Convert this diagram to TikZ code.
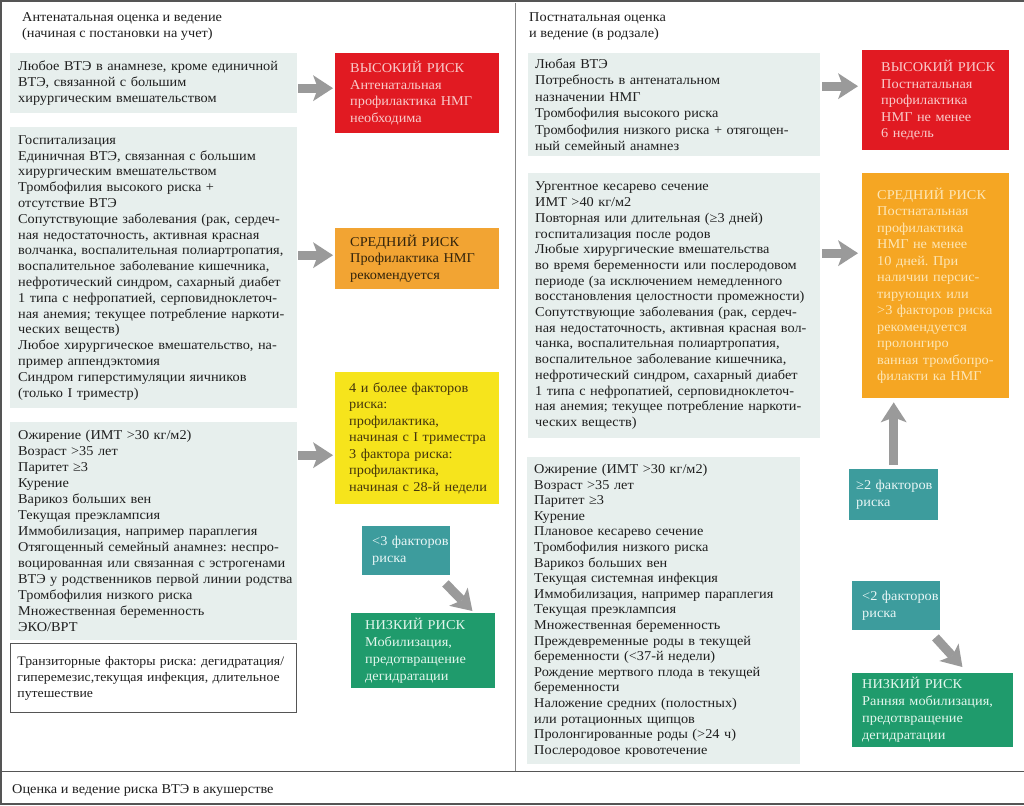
\documentclass[tikz,border=0pt]{standalone}
\usepackage{fontspec}
\setmainfont{Liberation Serif}[FakeStretch=1.06]
\frenchspacing
\usetikzlibrary{arrows.meta,calc}
\definecolor{infofill}{HTML}{E7EFED}
\definecolor{txt}{HTML}{1F1F1F}
\definecolor{redbox}{HTML}{E11A22}
\definecolor{redtxt}{HTML}{F9CACA}
\definecolor{orangeL}{HTML}{F2A433}
\definecolor{orangeLtxt}{HTML}{33240C}
\definecolor{orangeR}{HTML}{F5A623}
\definecolor{orangeRtxt}{HTML}{FDE6B5}
\definecolor{yellowbox}{HTML}{F6E41C}
\definecolor{yellowtxt}{HTML}{45360C}
\definecolor{tealbox}{HTML}{3D9C9D}
\definecolor{tealtxt}{HTML}{E8F6F6}
\definecolor{greenbox}{HTML}{1F9B6C}
\definecolor{greentxt}{HTML}{E2F6EC}
\definecolor{arrowgray}{HTML}{9A9A9A}
\definecolor{framegray}{HTML}{555555}
\begin{document}
\begin{tikzpicture}[x=1pt,y=-1pt,
  every node/.style={font=\fontsize{13.5}{16}\selectfont, text=txt},
  bx/.style n args={3}{anchor=north west, rectangle, minimum width=#1, minimum height=#2,
    text width=#1, inner xsep=0pt, inner ysep=0pt, align=left,
    execute at begin node={\leftskip=#3\relax\rightskip=-40pt plus 1fil\relax}},
  info/.style={fill=infofill},
  transit/.style={fill=white, draw=framegray, line width=0.8pt},
  redrisk/.style={fill=redbox, text=redtxt, font=\fontsize{13.5}{16.5}\selectfont},
  orangeleft/.style={fill=orangeL, text=orangeLtxt, font=\fontsize{13.5}{16.5}\selectfont},
  orangeright/.style={fill=orangeR, text=orangeRtxt, font=\fontsize{13.5}{16.5}\selectfont},
  yellowrisk/.style={fill=yellowbox, text=yellowtxt, font=\fontsize{13.5}{16.5}\selectfont},
  tealrisk/.style={fill=tealbox, text=tealtxt, font=\fontsize{13.5}{17}\selectfont},
  greenrisk/.style={fill=greenbox, text=greentxt, font=\fontsize{13.5}{17}\selectfont},
  heading/.style={anchor=north west, align=left, inner sep=0pt, font=\fontsize{13.5}{16}\selectfont},
  garrow/.style={draw=arrowgray, line width=9pt,
    -{Stealth[length=20pt,width=26pt,inset=5pt,line width=0pt]}},
  frameline/.style={draw=framegray, line width=1.5pt}
]
\useasboundingbox (0,0) rectangle (1024,805);
\fill[white] (0,0) rectangle (1024,805);

% frame
\draw[frameline] (1024,1) -- (1,1) -- (1,804) -- (1024,804);
\draw[draw=framegray, line width=1pt] (0,771) -- (1024,771);
\draw[draw=framegray!70, line width=1pt] (515,3) -- (515,771);

% headings
\node[heading] (hl) at (22,12) {Антенатальная оценка и ведение\\(начиная с постановки на учет)};
\node[heading] (hr) at (529,12) {Постнатальная оценка\\и ведение (в родзале)};
\node[heading] (cap) at (12,784) {Оценка и ведение риска ВТЭ в акушерстве};

% ---------- left column ----------
\node[bx={287pt}{60pt}{8pt}, info] (b1) at (10,53)
  {Любое ВТЭ в анамнезе, кроме единичной\\ВТЭ, связанной с большим\\хирургическим вмешательством};
\node[bx={164pt}{80pt}{15pt}, redrisk] (r1) at (335,53)
  {ВЫСОКИЙ РИСК\\Антенатальная\\профилактика НМГ\\необходима};

\node[bx={287pt}{281pt}{8pt}, info, font=\fontsize{13.5}{15.8}\selectfont] (b2) at (10,127)
  {Госпитализация\\Единичная ВТЭ, связанная с большим\\хирургическим вмешательством\\Тромбофилия высокого риска +\\отсутствие ВТЭ\\Сопутствующие заболевания (рак, сердеч-\\ная недостаточность, активная красная\\волчанка, воспалительная полиартропатия,\\воспалительное заболевание кишечника,\\нефротический синдром, сахарный диабет\\1 типа с нефропатией, серповидноклеточ-\\ная анемия; текущее потребление наркоти-\\ческих веществ)\\Любое хирургическое вмешательство, на-\\пример аппендэктомия\\Синдром гиперстимуляции яичников\\(только I триместр)};
\node[bx={164pt}{61pt}{15pt}, orangeleft] (o1) at (335,228)
  {СРЕДНИЙ РИСК\\Профилактика НМГ\\рекомендуется};

\node[bx={287pt}{218pt}{8pt}, info] (b3) at (10,422)
  {Ожирение (ИМТ >30 кг/м2)\\Возраст >35 лет\\Паритет ≥3\\Курение\\Варикоз больших вен\\Текущая преэклампсия\\Иммобилизация, например параплегия\\Отягощенный семейный анамнез: неспро-\\воцированная или связанная с эстрогенами\\ВТЭ у родственников первой линии родства\\Тромбофилия низкого риска\\Множественная беременность\\ЭКО/ВРТ};
\node[bx={164pt}{132pt}{14pt}, yellowrisk] (y1) at (335,372)
  {4 и более факторов\\риска:\\профилактика,\\начиная с I триместра\\3 фактора риска:\\профилактика,\\начиная с 28-й недели};

\node[bx={286pt}{69pt}{7pt}, transit, font=\fontsize{13}{16}\selectfont] (tr) at (10,643)
  {Транзиторные факторы риска: дегидратация/\\гиперемезис,текущая инфекция, длительное\\путешествие};

\node[bx={88pt}{49pt}{10pt}, tealrisk] (tl) at (362,526)
  {<3 факторов\\риска};
\node[bx={144pt}{75pt}{14pt}, greenrisk] (gl) at (351,613)
  {НИЗКИЙ РИСК\\Мобилизация,\\предотвращение\\дегидратации};

% ---------- right column ----------
\node[bx={292pt}{103pt}{7pt}, info, font=\fontsize{13.5}{16.5}\selectfont] (c1) at (528,53)
  {Любая ВТЭ\\Потребность в антенатальном\\назначении НМГ\\Тромбофилия высокого риска\\Тромбофилия низкого риска + отягощен-\\ный семейный анамнез};
\node[bx={147pt}{100pt}{19pt}, redrisk] (r2) at (862,50)
  {ВЫСОКИЙ РИСК\\Постнатальная\\профилактика\\НМГ не менее\\6 недель};

\node[bx={292pt}{265pt}{7pt}, info, font=\fontsize{13.5}{15.7}\selectfont] (c2) at (528,173)
  {Ургентное кесарево сечение\\ИМТ >40 кг/м2\\Повторная или длительная (≥3 дней)\\госпитализация после родов\\Любые хирургические вмешательства\\во время беременности или послеродовом\\периоде (за исключением немедленного\\восстановления целостности промежности)\\Сопутствующие заболевания (рак, сердеч-\\ная недостаточность, активная красная вол-\\чанка, воспалительная полиартропатия,\\воспалительное заболевание кишечника,\\нефротический синдром, сахарный диабет\\1 типа с нефропатией, серповидноклеточ-\\ная анемия; текущее потребление наркоти-\\ческих веществ)};
\node[bx={147pt}{225pt}{15pt}, orangeright] (o2) at (862,173)
  {СРЕДНИЙ РИСК\\Постнатальная\\профилактика\\НМГ не менее\\10 дней. При\\наличии персис-\\тирующих или\\>3 факторов риска\\рекомендуется\\пролонгиро\\ванная тромбопро-\\филакти ка НМГ};

\node[bx={89pt}{51pt}{7pt}, tealrisk] (t2) at (849,469)
  {≥2 факторов\\риска};

\node[bx={273pt}{307pt}{7pt}, info, font=\fontsize{13.5}{15.6}\selectfont] (c3) at (527,457)
  {Ожирение (ИМТ >30 кг/м2)\\Возраст >35 лет\\Паритет ≥3\\Курение\\Плановое кесарево сечение\\Тромбофилия низкого риска\\Варикоз больших вен\\Текущая системная инфекция\\Иммобилизация, например параплегия\\Текущая преэклампсия\\Множественная беременность\\Преждевременные роды в текущей\\беременности (<37-й недели)\\Рождение мертвого плода в текущей\\беременности\\Наложение средних (полостных)\\или ротационных щипцов\\Пролонгированные роды (>24 ч)\\Послеродовое кровотечение};

\node[bx={88pt}{49pt}{10pt}, tealrisk] (t3) at (852,581)
  {<2 факторов\\риска};
\node[bx={161pt}{74pt}{10pt}, greenrisk] (g2) at (852,673)
  {НИЗКИЙ РИСК\\Ранняя мобилизация,\\предотвращение\\дегидратации};

% ---------- arrows ----------
\coordinate (a1) at ([yshift=5pt]r1.west);
\coordinate (a2) at ([yshift=3.5pt]o1.west);
\coordinate (a3) at ([yshift=-17pt]y1.west);
\coordinate (a4) at ([yshift=14pt]r2.west);
\coordinate (a5) at ([yshift=32.5pt]o2.west);
\draw[garrow, shorten <=1pt, shorten >=2pt] (b1.east |- a1) -- (a1);
\draw[garrow, shorten <=1pt, shorten >=2pt] (b2.east |- a2) -- (a2);
\draw[garrow, shorten <=1pt, shorten >=2pt] (b3.east |- a3) -- (a3);
\draw[garrow, shorten <=2pt, shorten >=4pt] (c1.east |- a4) -- (a4);
\draw[garrow, shorten <=2pt, shorten >=4pt] (c2.east |- a5) -- (a5);
\draw[garrow, shorten <=4pt, shorten >=4pt] (t2.north) -- (t2.north |- o2.south);
\draw[garrow] ([xshift=-5pt,yshift=-8pt]tl.south east) -- ([xshift=-23pt,yshift=2pt]gl.north east);
\draw[garrow] ([xshift=-5pt,yshift=-7pt]t3.south east) -- ([xshift=-51pt,yshift=6pt]g2.north east);
\end{tikzpicture}
\end{document}
